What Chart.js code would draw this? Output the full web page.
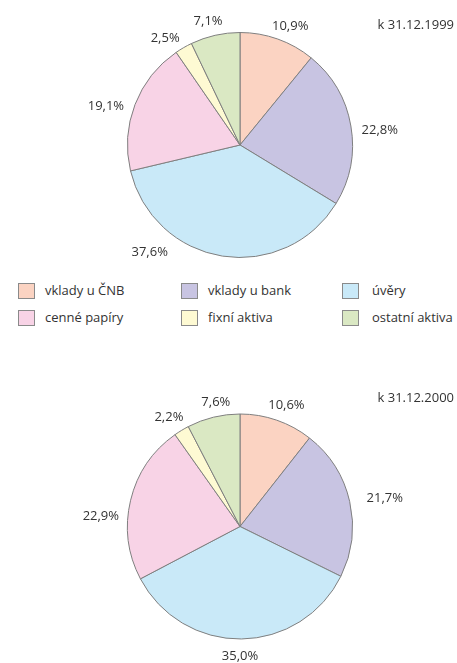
<!DOCTYPE html>
<html>
<head>
<meta charset="utf-8">
<script src="https://cdn.jsdelivr.net/npm/chart.js@4.4.1/dist/chart.umd.min.js"></script>
<style>
    html, body { margin: 0; padding: 0; background: #fff; }
    #page { position: relative; width: 457px; height: 663px; font-family: "Open Sans", sans-serif; color: #333; }
    #chart1999 { position: absolute; left: 0; top: 0; }
    #chart2000 { position: absolute; left: 0; top: 340px; }
    #legend { position: absolute; left: 0; top: 282px; width: 457px; }
    .item { position: absolute; font-size: 13px; line-height: 16px; white-space: nowrap; }
    .item .box { position: absolute; left: 0; top: 1px; width: 15px; height: 14px; border: 1px solid #8a8a8a; }
    .item .txt { position: absolute; top: 0; }
</style>
</head>
<body>
<div id="page">
    <canvas id="chart1999" width="457" height="275"></canvas>
    <div id="legend"></div>
    <canvas id="chart2000" width="457" height="323"></canvas>
</div>
<script>
const categories = ['vklady u ČNB', 'vklady u bank', 'úvěry', 'cenné papíry', 'fixní aktiva', 'ostatní aktiva'];
const values1999 = [10.9, 22.8, 37.6, 19.1, 2.5, 7.1];
const values2000 = [10.6, 21.7, 35.0, 22.9, 2.2, 7.6];
const titles = ['k 31.12.1999', 'k 31.12.2000'];

const sliceColors = ['#fbd3c2', '#c8c4e2', '#c9e9f8', '#f8d3e6', '#fefad3', '#dae8c3'];

// where each percent label sits: angle from 12 o'clock (clockwise) and gap beyond the rim
const labelAngles1999 = [23, 84, 220, 286, 325, 345.5];
const labelGaps1999 = [16, 28, 28, 27, 18, 15];
const labelAngles2000 = [21, 79, 180, 274, 327, 349];
const labelGaps2000 = [17, 35, 17.5, 27, 18, 14];

const fmtPct = v => v.toFixed(1).replace('.', ',') + '%';

const pieLabels = {
    id: 'pieLabels',
    afterDatasetsDraw(chart, args, opts) {
        const ctx = chart.ctx;
        const meta = chart.getDatasetMeta(0);
        const values = chart.data.datasets[0].data;
        ctx.save();
        ctx.fillStyle = '#333';
        ctx.font = '13px "Open Sans", sans-serif';
        ctx.textAlign = 'center';
        ctx.textBaseline = 'middle';
        meta.data.forEach((arc, i) => {
            const a = opts.angles[i] * Math.PI / 180;
            const r = arc.outerRadius + opts.gaps[i];
            ctx.fillText(fmtPct(values[i]), arc.x + r * Math.sin(a), arc.y - r * Math.cos(a));
        });
        ctx.textAlign = 'right';
        ctx.fillText(opts.title, opts.titleX, opts.titleY);
        ctx.restore();
    }
};

function makePie(canvasId, values, title, angles, gaps, padding, titleY) {
    const ctx = document.getElementById(canvasId).getContext('2d');
    return new Chart(ctx, {
        type: 'pie',
        data: {
            labels: categories,
            datasets: [{
                data: values,
                backgroundColor: sliceColors,
                borderColor: '#7f7f7f',
                borderWidth: 1
            }]
        },
        options: {
            responsive: false,
            animation: false,
            layout: { padding: padding },
            plugins: {
                legend: { display: false },
                tooltip: { enabled: false },
                pieLabels: { angles: angles, gaps: gaps, title: title, titleX: 454, titleY: titleY }
            }
        },
        plugins: [pieLabels]
    });
}

function buildLegend() {
    const legend = document.getElementById('legend');
    const colX = [18, 181, 342];
    const rowY = [0, 27];
    categories.forEach((name, i) => {
        const item = document.createElement('div');
        item.className = 'item';
        item.style.left = colX[i % 3] + 'px';
        item.style.top = rowY[Math.floor(i / 3)] + 'px';
        item.innerHTML = `<span class="box" style="background:${sliceColors[i]}"></span><span class="txt" style="left:${i % 3 === 2 ? 30 : 27}px">${name}</span>`;
        legend.appendChild(item);
    });
}

document.addEventListener('DOMContentLoaded', () => {
    makePie('chart1999', values1999, titles[0], labelAngles1999, labelGaps1999,
        { left: 127, right: 104, top: 32, bottom: 17 }, 25);
    buildLegend();
    makePie('chart2000', values2000, titles[1], labelAngles2000, labelGaps2000,
        { left: 127, right: 104, top: 73, bottom: 23 }, 58);
});
</script>
</body>
</html>
